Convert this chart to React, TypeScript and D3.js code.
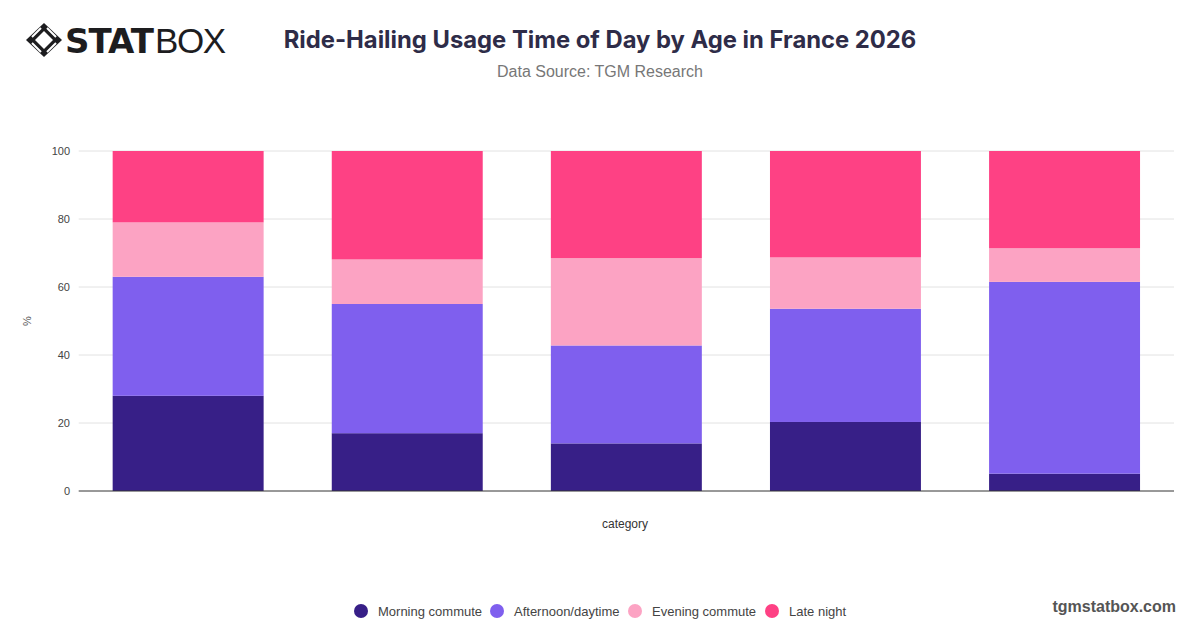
import React from "react";
import * as d3 from "d3";

const categories = ["18-24", "25-34", "35-44", "45-54", "55+"];
const seriesNames = ["Morning commute", "Afternoon/daytime", "Evening commute", "Late night"];
const morning = [28, 17, 14, 20.3, 5.1];
const afternoon = [35, 38, 28.8, 33.3, 56.4];
const evening = [16, 13.1, 25.7, 15.1, 9.9];
const lateNight = [21, 31.9, 31.5, 31.3, 28.6];
const colors = ["#371F87", "#7F5FEE", "#FCA3C3", "#FE4184"];
const yTicks = [0, 20, 40, 60, 80, 100];

const W = 1200;
const H = 628;
const M = { left: 78.7, right: 1174, top: 151, bottom: 491 };

export default function App() {
  const rows = categories.map((c, i) => ({
    category: c,
    [seriesNames[0]]: morning[i],
    [seriesNames[1]]: afternoon[i],
    [seriesNames[2]]: evening[i],
    [seriesNames[3]]: lateNight[i],
  }));
  const stacked = d3.stack<any>().keys(seriesNames)(rows);
  const x = d3.scaleBand<string>().domain(categories).range([M.left, M.right]).paddingInner(0.311).paddingOuter(0.155);
  const y = d3.scaleLinear().domain([0, 100]).range([M.bottom, M.top]);

  const legendX = [361, 497, 635, 772];

  return (
    <svg width={W} height={H} style={{ position: "absolute", left: 0, top: 0, background: "#fff" }}
      fontFamily="Inter, 'Noto Sans', sans-serif">
      <rect width={W} height={H} fill="#fff" />
      {/* logo */}
      <g transform="translate(44,40)">
        <path d="M0,-17 L18,0 L0,17 L-18,0 Z" fill="#1d1d1f" />
        <path d="M0,-9 L9,0 L0,9 L-9,0 Z" fill="#fff" />
        <path d="M-12,-3 L-3,-12 M3,-12 L12,-3 M12,3 L3,12 M-3,12 L-12,3" stroke="#fff" strokeWidth={2} />
      </g>
      <text x={65} y={53} fontFamily="'DejaVu Sans', sans-serif" fontWeight={900} fontSize={34} fill="#1d1d1f" letterSpacing={-1}>STAT</text>
      <text x={155} y={53} fontFamily="'Liberation Sans', sans-serif" fontWeight={300} fontSize={35} fill="#1d1d1f" textLength={71}>BOX</text>

      {/* title */}
      <text x={600} y={48} textAnchor="middle" fontSize={23.8} fontWeight={700} fill="#2e2c48">
        Ride-Hailing Usage Time of Day by Age in France 2026
      </text>
      <text x={600} y={77} textAnchor="middle" fontSize={16} fill="#777" fontFamily="'Liberation Sans', Arial, sans-serif">
        Data Source: TGM Research
      </text>

      {/* grid */}
      {yTicks.map((t) => (
        <g key={t}>
          {t > 0 && <line x1={M.left} x2={M.right} y1={y(t)} y2={y(t)} stroke="#e2e2e2" strokeWidth={1} />}
          <text x={70} y={y(t) + 4} textAnchor="end" fontSize={11} fill="#444" fontFamily="'Liberation Sans', Arial, sans-serif">{t}</text>
        </g>
      ))}
      <text transform={`translate(31,321) rotate(-90)`} textAnchor="middle" fontSize={11} fill="#555" fontFamily="'Liberation Sans', Arial, sans-serif">%</text>

      {/* bars */}
      {stacked.map((s, si) => (
        <g key={s.key} fill={colors[si]}>
          {s.map((d, i) => (
            <rect key={i} x={x(categories[i])} width={x.bandwidth()} y={y(d[1])} height={y(d[0]) - y(d[1])} />
          ))}
        </g>
      ))}
      <line x1={M.left} x2={M.right} y1={M.bottom} y2={M.bottom} stroke="#333" strokeWidth={1} />

      <text x={625} y={528} textAnchor="middle" fontSize={12} fill="#333" fontFamily="'Liberation Sans', Arial, sans-serif">category</text>

      {/* legend */}
      {seriesNames.map((n, i) => (
        <g key={n}>
          <circle cx={legendX[i]} cy={611} r={7} fill={colors[i]} />
          <text x={legendX[i] + 17} y={616} fontSize={13} fill="#444" fontFamily="'Liberation Sans', Arial, sans-serif">{n}</text>
        </g>
      ))}

      <text x={1176} y={612} textAnchor="end" fontSize={16} fontWeight={700} fill="#555" fontFamily="'Liberation Sans', Arial, sans-serif">tgmstatbox.com</text>
    </svg>
  );
}
